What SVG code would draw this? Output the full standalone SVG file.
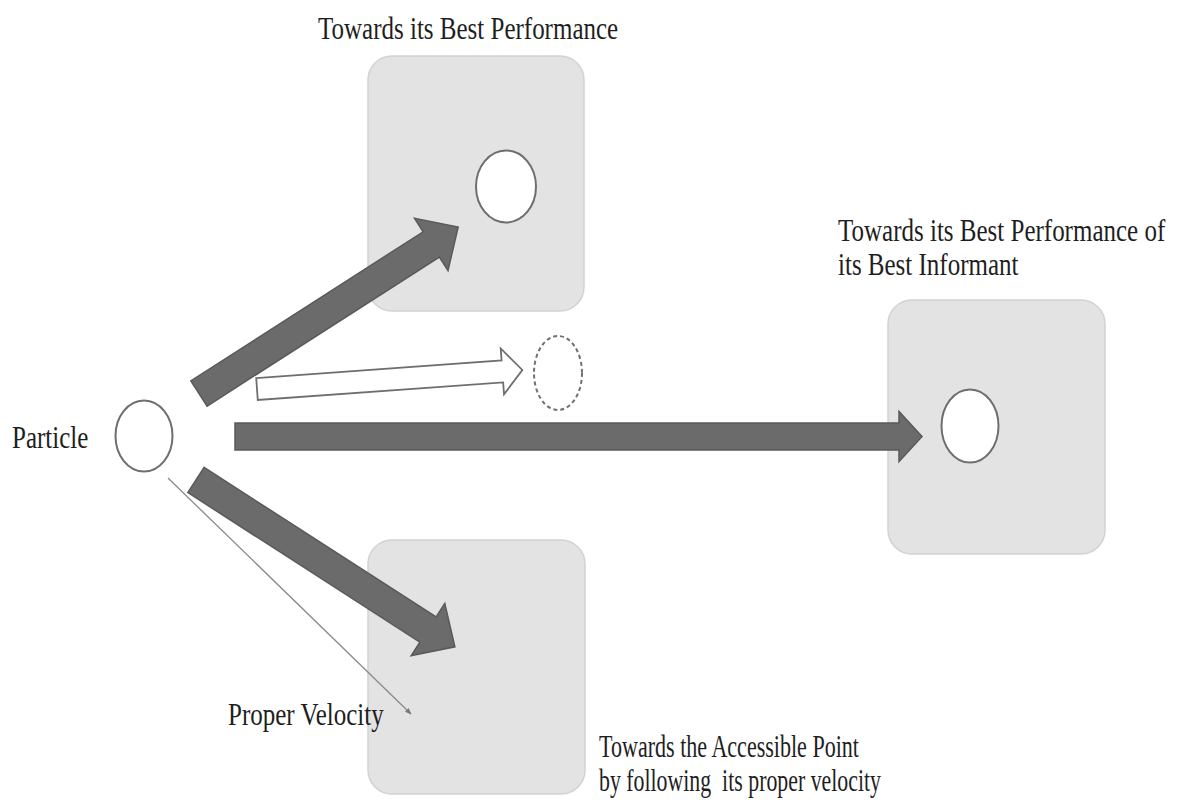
<svg xmlns="http://www.w3.org/2000/svg" width="1181" height="803" viewBox="0 0 1181 803">
  <defs>
    <style>
      .box { fill: #e3e3e3; stroke: #d2d2d2; stroke-width: 1.5; }
      .node { fill: #ffffff; stroke: #6e6e6e; stroke-width: 2; }
      .dashed { fill: #ffffff; stroke: #707070; stroke-width: 2; stroke-dasharray: 4 3; }
      .bold-arrow { fill: #6b6b6b; stroke: #5a5a5a; stroke-width: 1.5; stroke-linejoin: miter; }
      .hollow-arrow { fill: #ffffff; stroke: #6e6e6e; stroke-width: 1.8; }
      .thin { stroke: #8a8a8a; stroke-width: 1.3; fill: none; }
      .lbl { font-family: "Liberation Serif", "Times New Roman", serif; font-size: 25px; fill: #1e1e1e; }
    </style>
    <marker id="small-head" viewBox="0 0 10 10" refX="9" refY="5" markerWidth="5" markerHeight="5" orient="auto">
      <path d="M0,1 L10,5 L0,9 Z" fill="#7a7a7a"/>
    </marker>
  </defs>
  <rect width="1181" height="803" fill="#ffffff"/>

  <g id="box-best">
    <rect class="box" x="368" y="56" width="216" height="255" rx="24" ry="24"/>
    <ellipse class="node" cx="506" cy="186.5" rx="30" ry="36"/>
    <text class="lbl" transform="translate(318,39) scale(1,1.3)">Towards its Best Performance</text>
  </g>

  <g id="box-informant">
    <rect class="box" x="888" y="300" width="217" height="254" rx="24" ry="24"/>
    <ellipse class="node" cx="970" cy="426" rx="28.5" ry="36.5"/>
    <text class="lbl" transform="translate(838,241) scale(1,1.3)">Towards its Best Performance of</text>
    <text class="lbl" transform="translate(838,275) scale(1,1.3)">its Best Informant</text>
  </g>

  <g id="box-accessible">
    <rect class="box" x="368" y="540" width="217" height="254" rx="24" ry="24"/>
    <text class="lbl" transform="translate(599,757) scale(1,1.3)" textLength="260" lengthAdjust="spacingAndGlyphs">Towards the Accessible Point</text>
    <text class="lbl" transform="translate(599,791) scale(1,1.3)" style="white-space:pre" textLength="282" lengthAdjust="spacingAndGlyphs">by following  its proper velocity</text>
  </g>

  <g id="particle">
    <ellipse class="node" cx="144" cy="436" rx="28.5" ry="35.5"/>
    <text class="lbl" transform="translate(12,448) scale(1,1.3)">Particle</text>
  </g>

  <g id="ghost-position">
    <ellipse class="dashed" cx="558" cy="373" rx="24" ry="37"/>
  </g>

  <g id="connectors">
    <polygon class="bold-arrow" transform="translate(199,393.5) rotate(-32.7)" points="0,-15 276,-15 276,-31 308,0 276,31 276,15 0,15"/>
    <polygon class="hollow-arrow" transform="translate(257,389) rotate(-4.1)" points="0,-11 246,-11 246,-23 266,0 246,23 246,11 0,11"/>
    <polygon class="bold-arrow" transform="translate(235,436.5)" points="0,-13.5 664,-13.5 664,-25 687,0 664,25 664,13.5 0,13.5"/>
    <polygon class="bold-arrow" transform="translate(196,480) rotate(32.8)" points="0,-15 276,-15 276,-31 308,0 276,31 276,15 0,15"/>
    <line class="thin" x1="168" y1="478" x2="411" y2="714" marker-end="url(#small-head)"/>
  </g>

  <g id="velocity-label">
    <text class="lbl" transform="translate(228,725) scale(1,1.3)">Proper Velocity</text>
  </g>
</svg>
